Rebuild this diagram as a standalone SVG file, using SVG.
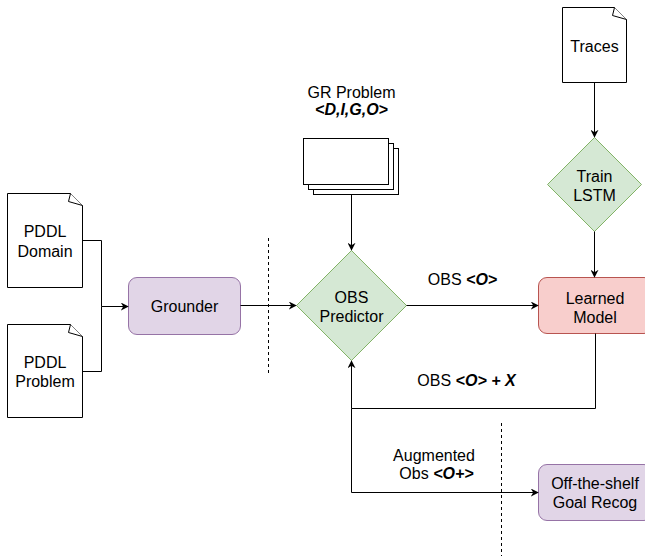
<svg xmlns="http://www.w3.org/2000/svg" width="645" height="558" viewBox="0 0 645 558">
<style>
text{font-family:"Liberation Sans",Arial,Helvetica,sans-serif;font-size:16px;fill:#000;text-anchor:middle}
.b{font-weight:bold;font-style:italic}
.doc{fill:#fff;stroke:#000;stroke-width:1}
.fold{fill:#fff;stroke:#000;stroke-width:1;stroke-linejoin:round}
.green{fill:#d5e8d4;stroke:#82b366;stroke-width:1}
.purple{fill:#e1d5e7;stroke:#9673a6;stroke-width:1}
.red{fill:#f8cecc;stroke:#b85450;stroke-width:1}
.edge{fill:none;stroke:#000;stroke-width:1}
.dash{fill:none;stroke:#000;stroke-width:1;stroke-dasharray:3 3}
</style>
<defs>
<marker id="arr" viewBox="0 0 10 10" refX="9" refY="5" markerWidth="8" markerHeight="8" markerUnits="userSpaceOnUse" orient="auto">
<path d="M0,0 L10,5 L0,10 L3,5 Z" fill="#000"/>
</marker>
</defs>

<g id="pddl-domain">
<path class="doc" d="M7.5,193.5 H70.5 L82.5,205.5 V287.5 H7.5 Z"/>
<path class="fold" d="M70.5,193.5 L68.5,201.5 L82.5,205.5"/>
<text x="45" y="237">PDDL</text>
<text x="45" y="256.5">Domain</text>
</g>

<g id="pddl-problem">
<path class="doc" d="M7.5,324.5 H70.5 L82.5,336.5 V417.5 H7.5 Z"/>
<path class="fold" d="M70.5,324.5 L68.5,332.5 L82.5,336.5"/>
<text x="45" y="367.5">PDDL</text>
<text x="45" y="386.5">Problem</text>
</g>

<g id="grounder">
<rect class="purple" x="128.5" y="277.5" width="112" height="57" rx="8.5"/>
<text x="184.5" y="311.5">Grounder</text>
</g>

<g id="gr-problem">
<rect class="doc" x="313.5" y="148.5" width="85" height="46"/>
<rect class="doc" x="308.5" y="143.5" width="85" height="46"/>
<rect class="doc" x="303.5" y="138.5" width="85" height="46"/>
<text x="351.5" y="97.5">GR Problem</text>
<text class="b" x="351.5" y="114.5">&lt;D,I,G,O&gt;</text>
</g>

<g id="obs-predictor">
<path class="green" d="M351.5,250.5 L406.5,305.5 L351.5,360.5 L296.5,305.5 Z"/>
<text x="351.5" y="302.5">OBS</text>
<text x="351.5" y="321.5">Predictor</text>
</g>

<g id="traces">
<path class="doc" d="M562.5,7.5 H614.5 L626.5,19.5 V82.5 H562.5 Z"/>
<path class="fold" d="M614.5,7.5 L612.5,15.5 L626.5,19.5"/>
<text x="594.5" y="52">Traces</text>
</g>

<g id="train-lstm">
<path class="green" d="M594.5,137.5 L641.5,184.5 L594.5,231.5 L547.5,184.5 Z"/>
<text x="594.5" y="181.5">Train</text>
<text x="594.5" y="200.5">LSTM</text>
</g>

<g id="learned-model">
<rect class="red" x="538.5" y="277.5" width="114" height="56" rx="8.5"/>
<text x="595" y="304">Learned</text>
<text x="595" y="323">Model</text>
</g>

<g id="goal-recog">
<rect class="purple" x="538.5" y="464.5" width="114" height="56" rx="8.5"/>
<text x="595" y="489">Off-the-shelf</text>
<text x="595" y="508">Goal Recog</text>
</g>

<g id="connectors">
<path class="edge" d="M82.5,240.5 H101.5 V306.5"/>
<path class="edge" d="M82.5,371.5 H101.5 V306.5 H128" marker-end="url(#arr)"/>
<path class="edge" d="M240.5,305.5 H296" marker-end="url(#arr)"/>
<path class="edge" d="M351.5,194.5 V250" marker-end="url(#arr)"/>
<path class="edge" d="M406.5,305.5 H538" marker-end="url(#arr)"/>
<path class="edge" d="M594.5,82.5 V137" marker-end="url(#arr)"/>
<path class="edge" d="M594.5,231.5 V277" marker-end="url(#arr)"/>
<path class="edge" d="M595.5,333.5 V408.5 H351.5 V361" marker-end="url(#arr)"/>
<path class="edge" d="M351.5,408.5 V492.5 H538" marker-end="url(#arr)"/>
<path class="dash" d="M268.5,238 V376"/>
<path class="dash" d="M501.5,423 V556"/>
<text x="462.5" y="285">OBS <tspan class="b">&lt;O&gt;</tspan></text>
<text x="466.5" y="386">OBS <tspan class="b">&lt;O&gt; + X</tspan></text>
<text x="434" y="460.5">Augmented</text>
<text x="436.5" y="479">Obs <tspan class="b">&lt;O+&gt;</tspan></text>
</g>
</svg>
